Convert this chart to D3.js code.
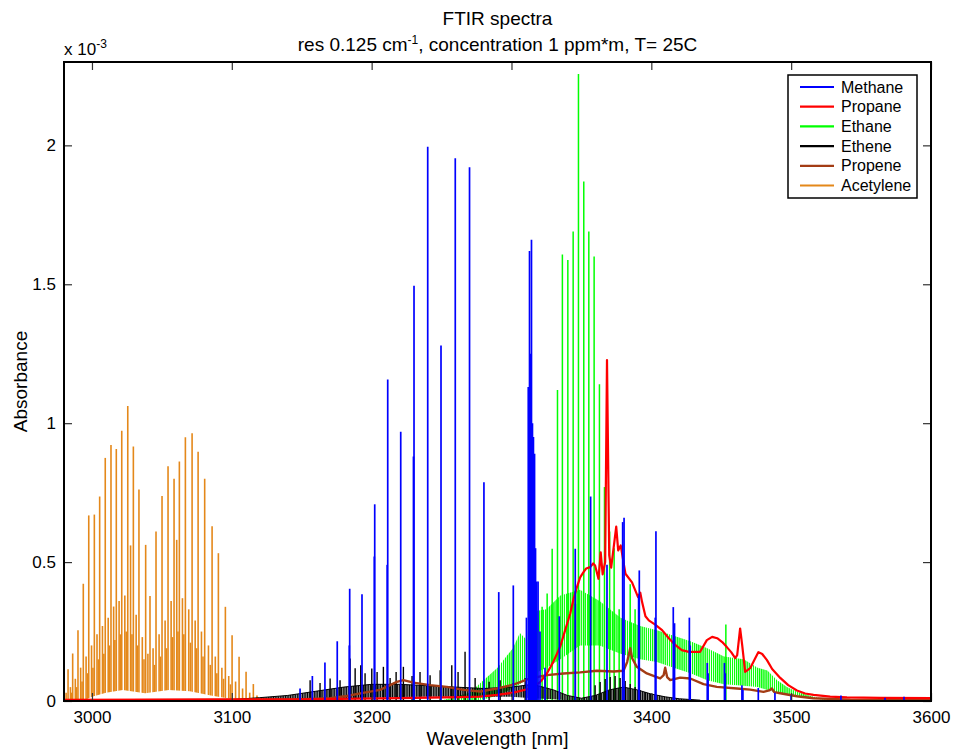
<!DOCTYPE html>
<html>
<head>
<meta charset="utf-8">
<script src="https://cdn.jsdelivr.net/npm/d3@7"></script>
<style>
  body { margin: 0; background: #fff; font-family: "Liberation Sans", Arial, sans-serif; }
  svg text { font-family: "Liberation Sans", Arial, sans-serif; }
</style>
</head>
<body>
<div id="chart"></div>
<script>
// ── Data (wavelength, absorbance x 1e-3) ──
const seriesNames = ['Methane', 'Propane', 'Ethane', 'Ethene', 'Propene', 'Acetylene'];
const xTicks = [3000, 3100, 3200, 3300, 3400, 3500, 3600];
const yTicks = [0, 0.5, 1, 1.5, 2];

const methaneBase = [[2980, 0], [3600, 0]];
const methaneLines = [
  [3148.8, 0.045], [3157.6, 0.09], [3166.6, 0.139], [3175.4, 0.215], [3184.3, 0.404], [3184.0, 0.2],
  [3193.1, 0.384], [3202.2, 0.708], [3201.9, 0.52], [3211.5, 1.157], [3211.1, 0.49], [3220.8, 0.969],
  [3230.3, 1.495], [3229.9, 0.88], [3240.1, 1.995], [3249.6, 1.28], [3259.8, 1.954], [3270.0, 1.921],
  [3280.3, 0.787], [3290.9, 0.392], [3301.3, 0.416],
  [3310.7, 0.3], [3312.0, 1.13], [3312.9, 1.62], [3313.6, 1.25], [3314.3, 1.66], [3315.0, 1.0],
  [3315.7, 0.95], [3316.5, 0.89], [3317.2, 0.55], [3317.9, 0.43], [3319.0, 0.43], [3320.4, 0.25],
  [3324.0, 0.12], [3334.2, 0.305], [3345.6, 0.548], [3356.6, 0.736], [3368.3, 0.49],
  [3379.5, 0.644], [3380.5, 0.66], [3391.4, 0.47], [3390.9, 0.38], [3403.3, 0.611], [3402.8, 0.3],
  [3415.7, 0.338], [3416.6, 0.28], [3427.2, 0.30], [3427.8, 0.2], [3440.0, 0.137], [3440.6, 0.1],
  [3452.3, 0.137], [3452.9, 0.1], [3464.8, 0.057], [3465.5, 0.04], [3476.5, 0.047], [3488.4, 0.03],
  [3499.9, 0.02], [3535.6, 0.02], [3567.1, 0.012], [3580.7, 0.015]
];

const propaneTrace = [
  [2980, 0.004], [3149, 0.006], [3220, 0.01], [3263, 0.014], [3277.6, 0.016], [3289.5, 0.022],
  [3301.4, 0.03], [3313.3, 0.045], [3320.5, 0.068], [3325.3, 0.099], [3329.8, 0.14], [3334.8, 0.195],
  [3338.4, 0.255], [3342.0, 0.315], [3344.5, 0.37], [3346.8, 0.41], [3349.1, 0.445], [3351.5, 0.464],
  [3353.4, 0.477], [3356.3, 0.482], [3358.4, 0.495], [3359.8, 0.488], [3362.2, 0.44], [3363.8, 0.535],
  [3365.2, 0.456], [3367.0, 0.5], [3368.3, 1.227], [3369.9, 0.524], [3371.3, 0.48], [3373.1, 0.554],
  [3374.9, 0.628], [3376.3, 0.542], [3378.1, 0.56], [3381.5, 0.458], [3386.2, 0.427], [3390.5, 0.374],
  [3392.1, 0.39], [3393.4, 0.356], [3395.8, 0.305], [3398.2, 0.29], [3402.5, 0.276], [3407.7, 0.255],
  [3412.5, 0.226], [3417.3, 0.201], [3421.8, 0.183], [3426.8, 0.177], [3434.9, 0.177], [3439.7, 0.219],
  [3443.5, 0.231], [3447.1, 0.226], [3450.7, 0.212], [3454.0, 0.194], [3457.1, 0.176], [3460.0, 0.154],
  [3461.4, 0.165], [3463.5, 0.261], [3465.0, 0.2], [3467.1, 0.105], [3470.7, 0.118], [3474.3, 0.154],
  [3476.6, 0.176], [3479.3, 0.169], [3482.7, 0.147], [3486.4, 0.115], [3492.2, 0.083], [3497.9, 0.057],
  [3504.1, 0.038], [3510.0, 0.027], [3516.0, 0.022], [3527.9, 0.016], [3539.9, 0.013], [3563.7, 0.011],
  [3600, 0.01]
];

// ethane: dense band [x, low, high] plus resolved lines
const ethaneBand = [
  [3250, 0, 0.002], [3270, 0.0, 0.03], [3280, 0.005, 0.075], [3290, 0.02, 0.12], [3301, 0.045, 0.19],
  [3306, 0.06, 0.245], [3311, 0.08, 0.22], [3313, 0.09, 0.32], [3325, 0.12, 0.33], [3335, 0.15, 0.38],
  [3349, 0.2, 0.40], [3363, 0.2, 0.36], [3378, 0.17, 0.30], [3392, 0.15, 0.27], [3404, 0.14, 0.255],
  [3416, 0.12, 0.235], [3428, 0.1, 0.215], [3440, 0.075, 0.19], [3452, 0.06, 0.16], [3466, 0.055, 0.15],
  [3476, 0.05, 0.12], [3483, 0.04, 0.11], [3490, 0.03, 0.075], [3497, 0.025, 0.05], [3504, 0.02, 0.033],
  [3514, 0.012, 0.018], [3525, 0.003, 0.005]
];
const ethaneLines = [
  [3314.6, 0.34], [3318.4, 0.3], [3321.9, 0.339], [3325.5, 0.387], [3329.1, 0.548], [3332.9, 1.119],
  [3336.4, 1.607], [3340.3, 1.587], [3344.1, 1.69], [3347.9, 2.257], [3351.7, 1.87], [3355.3, 1.69],
  [3359.1, 1.60], [3362.9, 1.14], [3366.5, 0.77], [3370.2, 0.61], [3373.4, 0.55], [3377.0, 0.33],
  [3384.9, 0.42], [3388.4, 0.33], [3453.3, 0.275]
];

// ethene: noisy band [x, low, high] plus spikes
const etheneBand = [
  [3100, 0, 0.005], [3120, 0.002, 0.012], [3140, 0.004, 0.02], [3160, 0.006, 0.035], [3180, 0.01, 0.05],
  [3200, 0.012, 0.06], [3220, 0.014, 0.06], [3240, 0.015, 0.055], [3260, 0.015, 0.05], [3280, 0.015, 0.045],
  [3300, 0.015, 0.05], [3315, 0.01, 0.06], [3330, 0.006, 0.04], [3340, 0.003, 0.02], [3350, 0, 0.01],
  [3360, 0, 0.02], [3370, 0, 0.04], [3380, 0, 0.05], [3390, 0, 0.04], [3400, 0, 0.025], [3410, 0, 0.015],
  [3420, 0, 0.008], [3435, 0, 0.003]
];
const etheneLines = [
  [3156.0, 0.075], [3163.1, 0.065], [3170.3, 0.081], [3177.4, 0.075], [3184.6, 0.153], [3188.2, 0.118],
  [3192.2, 0.129], [3195.3, 0.1], [3200.1, 0.117], [3203.9, 0.104], [3208.4, 0.123], [3213.2, 0.083],
  [3217.5, 0.104], [3222.7, 0.123], [3228.9, 0.09], [3234.6, 0.104], [3241.8, 0.093], [3249.0, 0.111],
  [3257.3, 0.129], [3261.8, 0.104], [3266.8, 0.177], [3274.0, 0.083], [3284.0, 0.069], [3291.9, 0.075],
  [3301.2, 0.065], [3309.8, 0.083], [3316.9, 0.093], [3324.1, 0.083], [3345.7, 0.35], [3359.8, 0.057],
  [3363.4, 0.068], [3367.0, 0.079], [3370.6, 0.086], [3374.1, 0.09], [3377.7, 0.083], [3381.3, 0.072],
  [3384.9, 0.061], [3388.4, 0.05], [3392.0, 0.04], [3395.6, 0.032], [3399.2, 0.025]
];

const propeneTrace = [
  [2980, 0.002], [3141.7, 0.005], [3170.3, 0.01], [3182.2, 0.018], [3193.9, 0.029], [3206.0, 0.04],
  [3213.2, 0.057], [3218.0, 0.069], [3222.7, 0.075], [3229.9, 0.066], [3241.8, 0.057], [3253.8, 0.051],
  [3265.6, 0.04], [3277.6, 0.034], [3289.5, 0.045], [3301.4, 0.059], [3313.3, 0.081], [3325.3, 0.093],
  [3337.2, 0.099], [3349.1, 0.103], [3361.0, 0.109], [3372.9, 0.106], [3380.1, 0.109], [3382.7, 0.14],
  [3384.9, 0.19], [3386.3, 0.154], [3389.6, 0.123], [3396.8, 0.099], [3406.3, 0.081], [3408.8, 0.093],
  [3409.9, 0.12], [3411.3, 0.086], [3413.5, 0.075], [3420.6, 0.084], [3427.8, 0.081], [3437.3, 0.061],
  [3446.9, 0.051], [3461.2, 0.045], [3470.7, 0.041], [3480.2, 0.033], [3484.3, 0.038], [3486.2, 0.045],
  [3487.9, 0.032], [3492.2, 0.028], [3504.1, 0.017], [3515.8, 0.01], [3542.3, 0.005], [3600, 0.003]
];

const acetyleneLines = [
  [2982.9, 0.114], [2986.2, 0.171], [2990.0, 0.255], [2993.8, 0.422], [2997.7, 0.668], [3001.7, 0.671],
  [3005.5, 0.736], [3009.5, 0.875], [3013.6, 0.921], [3017.4, 0.907], [3021.3, 0.973], [3025.6, 1.062],
  [3029.6, 0.916], [3033.6, 0.761], [3038.4, 0.562], [3041.5, 0.378], [3045.8, 0.61], [3050.1, 0.738],
  [3054.4, 0.845], [3058.7, 0.80], [3062.5, 0.862], [3066.8, 0.949], [3071.6, 0.964], [3075.9, 0.897],
  [3080.6, 0.80], [3085.9, 0.629], [3090.4, 0.532], [3095.4, 0.339], [3100.2, 0.237], [3105.2, 0.159],
  [3110.2, 0.105], [3115.4, 0.061]
];
const acetyleneWeak = [
  [2981.5, 0.03], [2984.6, 0.05], [2985.4, 0.03], [2988.1, 0.08], [2989.0, 0.05], [2991.9, 0.12],
  [2992.9, 0.07], [2995.8, 0.16], [2996.8, 0.1], [2999.7, 0.2], [3000.7, 0.12], [3003.6, 0.24],
  [3004.6, 0.15], [3007.5, 0.27], [3008.5, 0.17], [3011.6, 0.3], [3012.6, 0.2], [3015.5, 0.34],
  [3016.4, 0.22], [3019.4, 0.36], [3020.3, 0.24], [3023.5, 0.38], [3024.5, 0.25], [3027.6, 0.56],
  [3028.6, 0.24], [3031.6, 0.31], [3032.6, 0.2], [3036.0, 0.23], [3037.2, 0.15], [3040.0, 0.17],
  [3043.7, 0.19], [3044.7, 0.13], [3048.0, 0.24], [3049.0, 0.16], [3052.3, 0.29], [3053.3, 0.19],
  [3056.6, 0.36], [3057.6, 0.23], [3060.6, 0.58], [3061.5, 0.25], [3064.7, 0.37], [3065.7, 0.24],
  [3069.2, 0.33], [3070.4, 0.21], [3073.8, 0.29], [3074.8, 0.19], [3078.3, 0.25], [3079.4, 0.16],
  [3083.3, 0.2], [3084.6, 0.13], [3088.2, 0.16], [3089.3, 0.1], [3092.9, 0.12], [3094.1, 0.08],
  [3097.8, 0.09], [3099.0, 0.06], [3102.7, 0.07], [3107.7, 0.045], [3112.8, 0.03], [3118.0, 0.02]
];
// gap under the acetylene lines (continuum floor)
const acetyleneFloor = [
  [2995, 0.004], [3000, 0.015], [3010, 0.03], [3022, 0.04], [3038, 0.028], [3055, 0.04],
  [3070, 0.035], [3085, 0.02], [3100, 0.007], [3108, 0.004]
];

// ── Styles ──
const colors = {
  Methane: '#0000ff', Propane: '#ff0000', Ethane: '#00ff00',
  Ethene: '#000000', Propene: '#a33c14', Acetylene: '#e4881a'
};

const margin = { top: 62, left: 64 };
const width = 867, height = 639;

const root = d3.select('#chart').append('svg')
  .attr('width', 954).attr('height', 750);

// stripe fills standing in for the unresolved dense noise
const defs = root.append('defs');
function stripes(id, color, period, w) {
  defs.append('pattern').attr('id', id)
    .attr('patternUnits', 'userSpaceOnUse').attr('width', period).attr('height', 6)
    .append('rect').attr('width', w).attr('height', 6).attr('fill', color);
}
stripes('ethaneNoise', colors.Ethane, 2.1, 1.3);
stripes('etheneNoise', colors.Ethene, 1.7, 1.2);

const svg = root.append('g')
  .attr('transform', `translate(${margin.left},${margin.top})`);

const x = d3.scaleLinear().domain([2980, 3600]).range([0, width]);
const y = d3.scaleLinear().domain([0, 2.3]).range([height, 0]);

svg.append('clipPath').attr('id', 'clip')
  .append('rect').attr('width', width).attr('height', height);

const plot = svg.append('g').attr('clip-path', 'url(#clip)');

function spikes(lines, color, w) {
  plot.append('g').selectAll('line').data(lines).join('line')
    .attr('x1', d => x(d[0])).attr('x2', d => x(d[0]))
    .attr('y1', y(0)).attr('y2', d => y(d[1]))
    .attr('stroke', color).attr('stroke-width', w);
}

function trace(points, color, w) {
  plot.append('path').datum(points)
    .attr('fill', 'none').attr('stroke', color).attr('stroke-width', w)
    .attr('stroke-linejoin', 'round')
    .attr('d', d3.line().x(d => x(d[0])).y(d => y(d[1])));
}

function band(rows, fill) {
  plot.append('path').datum(rows)
    .attr('fill', fill)
    .attr('d', d3.area().x(d => x(d[0])).y0(d => y(d[1])).y1(d => y(d[2])));
}

// Acetylene (bottom layer)
spikes(acetyleneWeak, colors.Acetylene, 1.6);
spikes(acetyleneLines, colors.Acetylene, 1.6);
plot.append('path').datum(acetyleneFloor)
  .attr('fill', '#fff')
  .attr('d', d3.area().x(d => x(d[0])).y0(y(0.004)).y1(d => y(d[1])));

// Ethane
band(ethaneBand, 'url(#ethaneNoise)');
spikes(ethaneLines, colors.Ethane, 1.5);

// Ethene
band(etheneBand, 'url(#etheneNoise)');
trace(etheneBand.map(d => [d[0], d[2]]), colors.Ethene, 1);
spikes(etheneLines, colors.Ethene, 1.4);

// Propene
trace(propeneTrace, colors.Propene, 2.4);

// Propane
trace(propaneTrace, colors.Propane, 2.2);

// Methane (top)
trace(methaneBase, colors.Methane, 1.6);
spikes(methaneLines, colors.Methane, 1.7);

// ── Axes (inward ticks, MATLAB style) ──
const fs = 17;
function styleAxis(g) {
  g.select('.domain').remove();
  g.selectAll('line').attr('stroke', '#333').attr('stroke-width', 1.2);
  g.selectAll('text').attr('fill', '#000').style('font-size', fs + 'px');
}
svg.append('g').attr('transform', `translate(0,${height})`)
  .call(d3.axisBottom(x).tickValues(xTicks).tickSize(-8).tickPadding(10).tickFormat(d3.format('d')))
  .call(styleAxis);
svg.append('g')
  .call(d3.axisTop(x).tickValues(xTicks).tickSize(-8).tickFormat(''))
  .call(styleAxis);
svg.append('g')
  .call(d3.axisLeft(y).tickValues(yTicks).tickSize(-8).tickPadding(8).tickFormat(d => d))
  .call(styleAxis);
svg.append('g').attr('transform', `translate(${width},0)`)
  .call(d3.axisRight(y).tickValues(yTicks).tickSize(-8).tickFormat(''))
  .call(styleAxis);

// Frame
svg.append('rect').attr('width', width).attr('height', height)
  .attr('fill', 'none').attr('stroke', '#000').attr('stroke-width', 2);

// ── Titles ──
root.append('text').attr('x', margin.left + width / 2).attr('y', 25)
  .attr('text-anchor', 'middle').style('font-size', '19px').text('FTIR spectra');

const sub = root.append('text').attr('x', margin.left + width / 2).attr('y', 51)
  .attr('text-anchor', 'middle').style('font-size', '19px');
sub.append('tspan').text('res 0.125 cm');
sub.append('tspan').attr('dy', -7).style('font-size', '12px').text('-1');
sub.append('tspan').attr('dy', 7).text(', concentration 1 ppm*m, T= 25C');

const mult = root.append('text').attr('x', 64).attr('y', 55).style('font-size', '17px');
mult.append('tspan').text('x 10');
mult.append('tspan').attr('dy', -7).style('font-size', '12px').text('-3');

root.append('text').attr('x', margin.left + width / 2).attr('y', 745)
  .attr('text-anchor', 'middle').style('font-size', '19px').text('Wavelength [nm]');

root.append('text')
  .attr('transform', `translate(27,${margin.top + height / 2}) rotate(-90)`)
  .attr('text-anchor', 'middle').style('font-size', '19px').text('Absorbance');

// ── Legend ──
const leg = root.append('g').attr('transform', 'translate(788,75)');
leg.append('rect').attr('width', 129).attr('height', 123)
  .attr('fill', '#fff').attr('stroke', '#000').attr('stroke-width', 1.5);
seriesNames.forEach((name, i) => {
  const ly = 12 + i * 19.7;
  leg.append('line').attr('x1', 12).attr('x2', 46).attr('y1', ly).attr('y2', ly)
    .attr('stroke', colors[name]).attr('stroke-width', 2.2);
  leg.append('text').attr('x', 53).attr('y', ly + 5.5)
    .style('font-size', '16px').text(name);
});
</script>
</body>
</html>
